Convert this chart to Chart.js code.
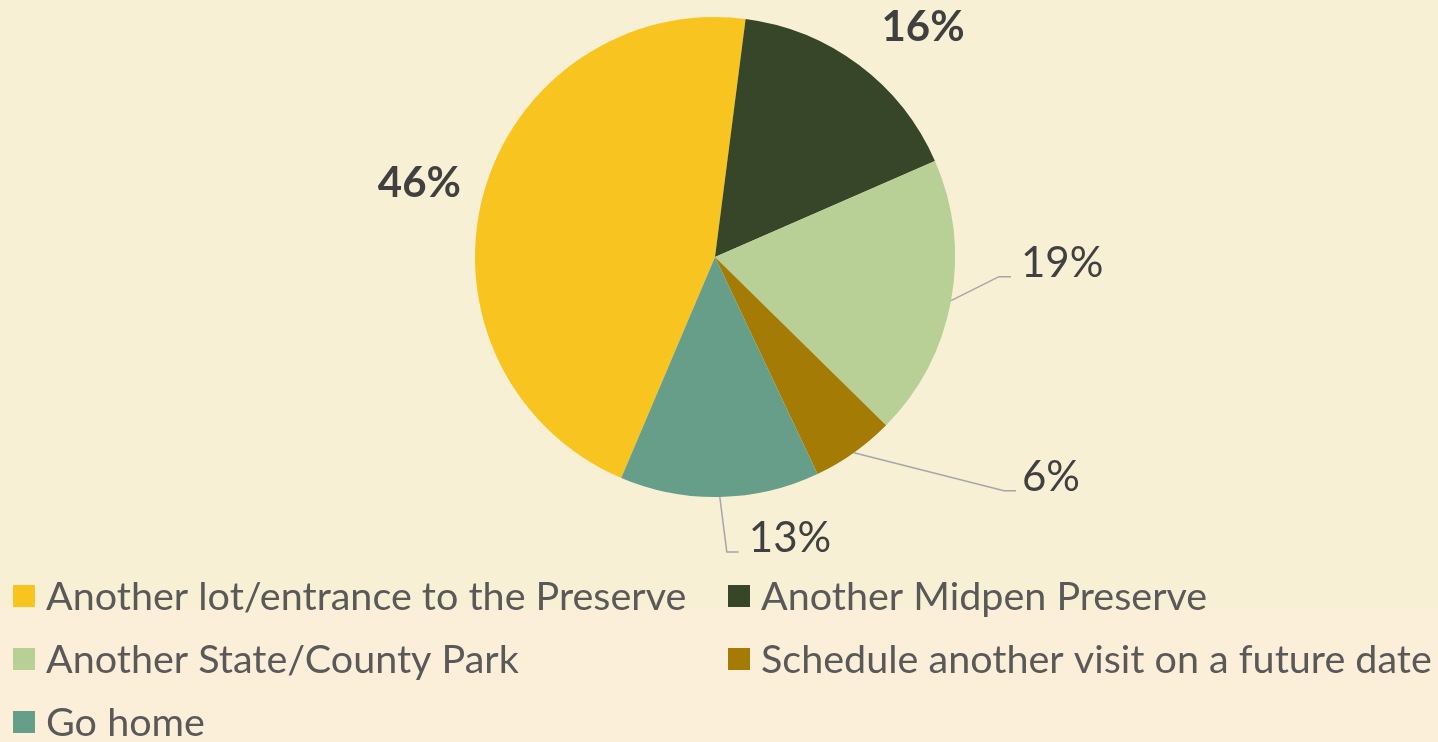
<!DOCTYPE html>
<html>
<head>
<meta charset="utf-8">
<script src="https://cdn.jsdelivr.net/npm/chart.js@4/dist/chart.umd.min.js"></script>
<style>
  html, body { margin: 0; padding: 0; width: 1438px; height: 742px; overflow: hidden; background: #FCEFD9; }
  #topbg { position: absolute; left: 0; top: 0; width: 1438px; height: 608px; background: #F7F0D5; }
  #wrap { position: absolute; left: 0; top: 0; width: 1438px; height: 742px; }
</style>
</head>
<body>
<div id="topbg"></div>
<div id="wrap"><canvas id="c" width="1438" height="742"></canvas></div>
<script>
const categories = [
  'Another lot/entrance to the Preserve',
  'Another Midpen Preserve',
  'Another State/County Park',
  'Schedule another visit on a future date',
  'Go home'
];
const shares = [45.6, 16.4, 18.9, 5.6, 13.4];
const sliceColors = ['#F8C41F', '#374628', '#B8CF96', '#A47C05', '#679E8A'];
const boldLabel = [true, true, false, false, false];

// label placement relative to the slice's outer mid point
const labelPlace = [
  { dx: -64, dy: -11, leader: false },
  { dx: 64, dy: -38, leader: false },
  { dx: 48, dy: -24, leader: true, tail: 12, gap: 10 },
  { dx: 150, dy: 38, leader: true, tail: 12, gap: 6 },
  { dx: 7, dy: 55, leader: true, tail: 12, gap: 10 }
];

const labelPlugin = {
  id: 'pctLabels',
  afterDatasetsDraw(chart) {
    const ctx = chart.ctx;
    const meta = chart.getDatasetMeta(0);
    const total = shares.reduce((a, b) => a + b, 0);
    meta.data.forEach((arc, i) => {
      const p = arc.getProps(['x', 'y', 'startAngle', 'endAngle', 'outerRadius'], true);
      const mid = (p.startAngle + p.endAngle) / 2;
      const ex = p.x + Math.cos(mid) * p.outerRadius;
      const ey = p.y + Math.sin(mid) * p.outerRadius;
      const pl = labelPlace[i];
      const txt = Math.round(shares[i] / total * 100) + '%';
      ctx.save();
      ctx.fillStyle = '#404040';
      ctx.font = (boldLabel[i] ? 'bold ' : '') + '42px Lato';
      if (pl.leader) {
        const bx = ex + pl.dx, by = ey + pl.dy;
        ctx.strokeStyle = '#A6A6A6';
        ctx.lineWidth = 1.5;
        ctx.beginPath();
        ctx.moveTo(ex, ey);
        ctx.lineTo(bx, by);
        ctx.lineTo(bx + pl.tail, by);
        ctx.stroke();
        ctx.textAlign = 'left';
        ctx.textBaseline = 'alphabetic';
        ctx.fillText(txt, bx + pl.tail + pl.gap, by);
      } else {
        ctx.textAlign = 'center';
        ctx.textBaseline = 'middle';
        ctx.fillText(txt, ex + pl.dx, ey + pl.dy);
      }
      ctx.restore();
    });
  }
};

const legendPlugin = {
  id: 'gridLegend',
  afterDraw(chart) {
    const ctx = chart.ctx;
    const cols = [13, 728];
    const rows = [610, 673, 736];
    const items = chart.data.labels;
    ctx.save();
    ctx.font = '39.5px Lato';
    ctx.textBaseline = 'alphabetic';
    ctx.textAlign = 'left';
    items.forEach((lab, i) => {
      const x = cols[i % 2];
      const y = rows[Math.floor(i / 2)];
      ctx.fillStyle = chart.data.datasets[0].backgroundColor[i];
      ctx.fillRect(x, y - 25, 22, 22);
      ctx.fillStyle = '#595959';
      ctx.fillText(lab, x + 33, y);
    });
    ctx.restore();
  }
};

new Chart(document.getElementById('c'), {
  type: 'pie',
  data: {
    labels: categories,
    datasets: [{
      data: shares,
      backgroundColor: sliceColors,
      borderWidth: 0,
      hoverOffset: 0
    }]
  },
  options: {
    responsive: false,
    animation: false,
    rotation: 203,
    layout: { padding: { left: 475, right: 483, top: 17, bottom: 245 } },
    plugins: { legend: { display: false }, tooltip: { enabled: false } }
  },
  plugins: [labelPlugin, legendPlugin]
});
</script>
</body>
</html>
